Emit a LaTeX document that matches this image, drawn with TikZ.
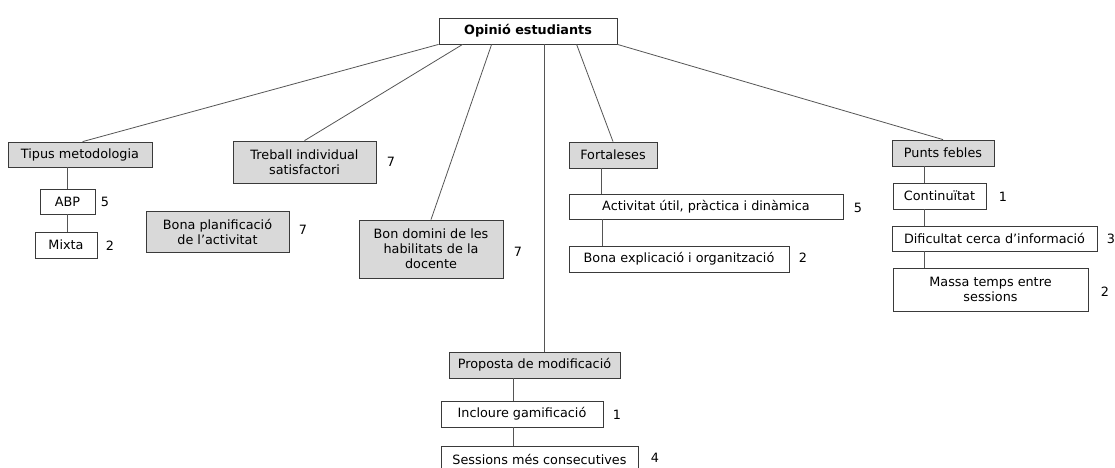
\documentclass[tikz,border=0pt]{standalone}
\usepackage{fontspec}
\setmainfont{DejaVu Sans}
\definecolor{boxfill}{HTML}{D9D9D9}
\definecolor{boxline}{HTML}{3A3A3A}
\definecolor{conline}{HTML}{555555}
\begin{document}
\begin{tikzpicture}[x=1pt,y=-1pt,
  every node/.style={font=\fontsize{12.8}{15}\selectfont, inner sep=0pt, align=center},
  wbox/.style={draw=boxline, line width=0.8pt, fill=white},
  gbox/.style={draw=boxline, line width=0.8pt, fill=boxfill},
  conn/.style={draw=conline, line width=0.8pt},
  num/.style={anchor=center}]
\clip (0,0) rectangle (1115,467);
\fill[white] (0,0) rectangle (1115,467);
% nodes
\node[wbox, minimum width=178pt, minimum height=26pt, font=\fontsize{12.8}{15}\selectfont\bfseries] (top) at (528,31) {Opinió estudiants};
\node[gbox, minimum width=144pt, minimum height=25pt] (tipus) at (80,154.5) {Tipus metodologia};
\node[wbox, minimum width=55pt, minimum height=25pt] (abp) at (67.5,201.5) {ABP};
\node[wbox, minimum width=62pt, minimum height=26pt] (mixta) at (66,245) {Mixta};
\node[gbox, minimum width=143pt, minimum height=42pt] (treball) at (304.5,162) {Treball individual\\satisfactori};
\node[gbox, minimum width=143pt, minimum height=41pt] (bonaplan) at (217.5,231.5) {Bona planificació\\de l’activitat};
\node[gbox, minimum width=144pt, minimum height=58pt] (bondomini) at (431,249) {Bon domini de les\\habilitats de la\\docente};
\node[gbox, minimum width=88pt, minimum height=26pt] (fort) at (613,155) {Fortaleses};
\node[wbox, minimum width=274pt, minimum height=25pt] (activ) at (706,206.5) {Activitat útil, pràctica i dinàmica};
\node[wbox, minimum width=220pt, minimum height=26pt] (bonaexp) at (679,259) {Bona explicació i organització};
\node[gbox, minimum width=102pt, minimum height=26pt] (punts) at (943,153) {Punts febles};
\node[wbox, minimum width=93pt, minimum height=26pt] (contin) at (939.5,196) {Continuïtat};
\node[wbox, minimum width=205pt, minimum height=25pt] (dific) at (994.5,238.5) {Dificultat cerca d’informació};
\node[wbox, minimum width=195pt, minimum height=43pt] (massa) at (990.5,289.5) {Massa temps entre\\sessions};
\node[gbox, minimum width=171pt, minimum height=26pt] (proposta) at (534.5,365) {Proposta de modificació};
\node[wbox, minimum width=162pt, minimum height=26pt] (incloure) at (522,414) {Incloure gamificació};
\node[wbox, minimum width=197pt, minimum height=26pt] (sessions) at (539.5,459) {Sessions més consecutives};
% numbers
\node[num] (nabp) at (105,202) {5};
\node[num] (nmixta) at (110,246) {2};
\node[num] (ntreball) at (391,162) {7};
\node[num] (nbonaplan) at (303,230) {7};
\node[num] (nbondomini) at (518,252) {7};
\node[num] (nactiv) at (858,208) {5};
\node[num] (nbonaexp) at (803,258) {2};
\node[num] (ncontin) at (1003,197) {1};
\node[num] (ndific) at (1111,239) {3};
\node[num] (nmassa) at (1105,292) {2};
\node[num] (nincloure) at (617,415) {1};
\node[num] (nsessions) at (655,458) {4};
% connectors from top
\draw[conn] (top.south west) -- ([xshift=75pt]tipus.north west);
\draw[conn] ([xshift=24pt]top.south west) -- (treball.north);
\draw[conn] ([xshift=53pt]top.south west) -- (bondomini.north);
\draw[conn] ([xshift=106pt]top.south west) -- ([xshift=106pt]top.south west |- proposta.north);
\draw[conn] ([xshift=138pt]top.south west) -- (fort.north);
\draw[conn] (top.south east) -- (punts.north);
% tipus branch
\draw[conn] ([xshift=60pt]tipus.south west) -- ([xshift=60pt]tipus.south west |- abp.north);
\draw[conn] ([xshift=60pt]tipus.south west |- abp.south) -- ([xshift=60pt]tipus.south west |- mixta.north);
% fortaleses branch
\draw[conn] ([xshift=33pt]fort.south west) -- ([xshift=33pt]fort.south west |- activ.north);
\draw[conn] ([xshift=34pt]activ.south west) -- ([xshift=34pt]activ.south west |- bonaexp.north);
% punts febles branch
\draw[conn] ([xshift=33pt]punts.south west) -- ([xshift=33pt]punts.south west |- contin.north);
\draw[conn] ([xshift=33pt]punts.south west |- contin.south) -- ([xshift=33pt]punts.south west |- dific.north);
\draw[conn] ([xshift=33pt]punts.south west |- dific.south) -- ([xshift=33pt]punts.south west |- massa.north);
% proposta branch
\draw[conn] ([xshift=65pt]proposta.south west) -- ([xshift=65pt]proposta.south west |- incloure.north);
\draw[conn] ([xshift=65pt]proposta.south west |- incloure.south) -- ([xshift=65pt]proposta.south west |- sessions.north);
\end{tikzpicture}
\end{document}
